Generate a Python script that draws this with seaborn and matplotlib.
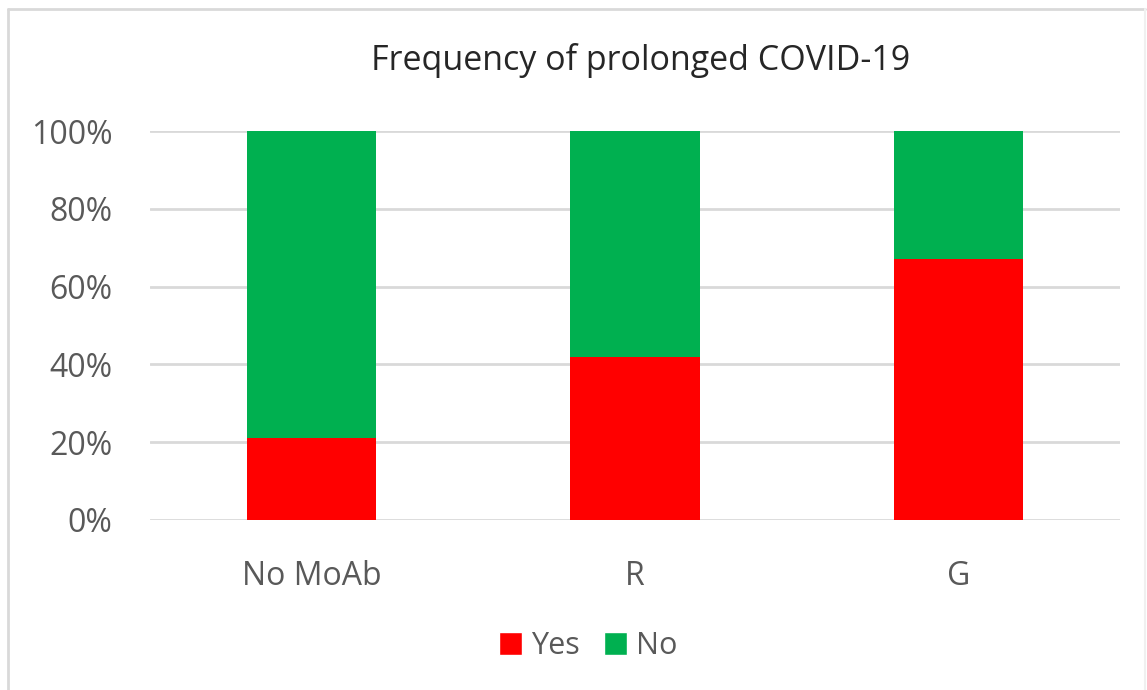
import matplotlib
matplotlib.use("Agg")
import matplotlib.pyplot as plt
import seaborn as sns
import pandas as pd
from matplotlib.patches import Patch
from matplotlib.lines import Line2D
from matplotlib.ticker import PercentFormatter

categories = ["No MoAb", "R", "G"]
yes_share = [0.21, 0.42, 0.67]
no_share = [0.79, 0.58, 0.33]
series_names = ["Yes", "No"]
colors = {"Yes": "#FF0000", "No": "#00B050"}
title = "Frequency of prolonged COVID-19"

df = pd.DataFrame({"cat": categories, "Yes": yes_share, "No": no_share})
df["total"] = df["Yes"] + df["No"]

sns.set_theme(style="white")
plt.rcParams["font.family"] = ["Open Sans", "DejaVu Sans"]

W, H = 1147, 690
fig = plt.figure(figsize=(W / 100, H / 100), dpi=100)
# light frame (left, top, right edges)
fig.add_artist(Line2D([8 / W, 8 / W], [0, 1 - 9 / H], color="#d9d9d9", lw=2))
fig.add_artist(Line2D([8 / W, 1145 / W], [1 - 9 / H, 1 - 9 / H], color="#d9d9d9", lw=2))
fig.add_artist(Line2D([1145 / W, 1145 / W], [0, 1 - 9 / H], color="#f0f0f0", lw=1.5))

ax = fig.add_axes([150 / W, 1 - 520 / H, 970 / W, 389 / H])

sns.barplot(data=df, x="cat", y="total", color=colors["No"], width=0.4,
            ax=ax, saturation=1, zorder=3, linewidth=0, edgecolor="none")
sns.barplot(data=df, x="cat", y="Yes", color=colors["Yes"], width=0.4,
            ax=ax, saturation=1, zorder=3, linewidth=0, edgecolor="none")

ax.set_ylim(0, 1)
ax.set_yticks([0, 0.2, 0.4, 0.6, 0.8, 1.0])
ax.yaxis.set_major_formatter(PercentFormatter(1.0, decimals=0))
ax.grid(axis="y", color="#d9d9d9", linewidth=2, zorder=0)
ax.set_axisbelow(True)
for s in ax.spines.values():
    s.set_visible(False)
ax.set_xlabel("")
ax.set_ylabel("")
ax.tick_params(axis="both", length=0, labelsize=23, colors="#595959")
ax.tick_params(axis="y", pad=27)
ax.tick_params(axis="x", pad=29)

fig.text(641 / W, 1 - 60 / H, title, ha="center", va="center", fontsize=24.5, color="#262626")

handles = [Patch(facecolor=colors[n], label=n) for n in series_names]
fig.legend(handles=handles, loc="center", bbox_to_anchor=(588 / W, 1 - 646 / H), ncol=2,
           frameon=False, fontsize=22, handlelength=0.75, handleheight=0.75,
           handletextpad=0.3, columnspacing=0.8, labelcolor="#595959",
           borderpad=0, borderaxespad=0)

fig.savefig("out.png", dpi=100)
